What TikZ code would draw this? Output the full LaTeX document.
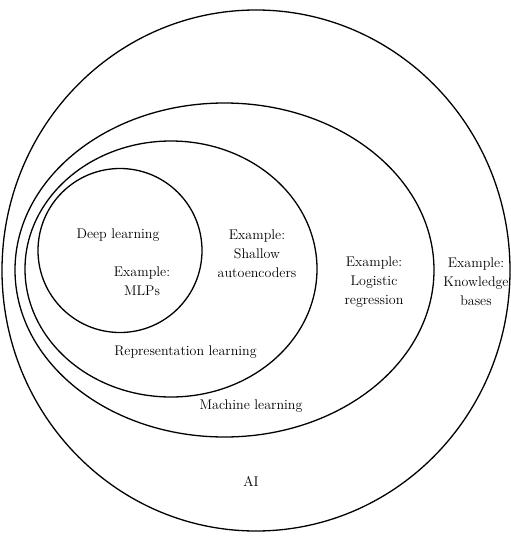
\documentclass[tikz,border=0pt]{standalone}
\usepackage{tikz}
\usetikzlibrary{positioning}

\begin{document}
\begin{tikzpicture}[x=1pt,y=-1pt,
  setline/.style={line width=1.3pt},
  lbl/.style={align=center,font=\fontsize{14}{19}\selectfont,inner sep=0pt}]
\useasboundingbox (0,0) rectangle (511,538);
% Draw the outer set (AI)
\draw[setline] (256,270.5) ellipse [x radius=254,y radius=260.5];
% Draw machine learning
\draw[setline] (224.5,270) ellipse [x radius=209.5,y radius=167];
% Draw representation learning
\draw[setline] (171,269) ellipse [x radius=146,y radius=128];
% Draw deep learning
\draw[setline] (120,250.5) ellipse [x radius=82,y radius=82];
% Labels
\node[lbl] (dl) at (118,235) {Deep learning};
\node[lbl] (dlex) at (142,281) {Example:\\MLPs};
\node[lbl] (rlex) at (257,253.5) {Example:\\Shallow\\autoencoders};
\node[lbl] (rl) at (185.5,352) {Representation learning};
\node[lbl] (mlex) at (374,282) {Example:\\Logistic\\regression};
\node[lbl] (ml) at (251,406) {Machine learning};
\node[lbl] (aiex) at (476,282) {Example:\\Knowledge\\bases};
\node[lbl] (ai) at (251,481) {AI};
\end{tikzpicture}
\end{document}
